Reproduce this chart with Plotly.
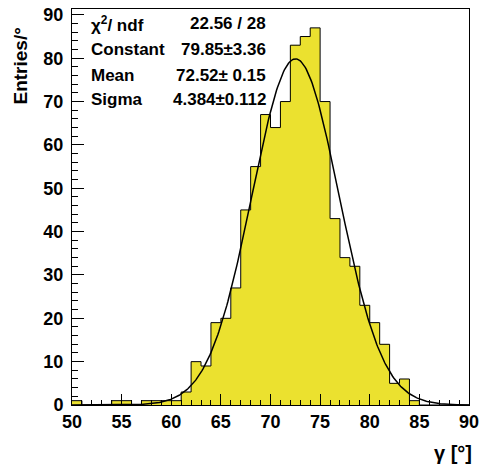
import numpy as np
import plotly.graph_objects as go

# Histogram: bin low edges (width 1) and counts
bin_edges = list(range(50, 91))
counts = [1, 0, 0, 0, 1, 1, 0, 1, 1, 1,      # 50-59
          1, 3, 10, 9, 19, 20, 27, 45, 55, 67,  # 60-69
          64, 70, 83, 85, 87, 70, 43, 34, 32, 23,  # 70-79
          19, 14, 5, 6, 1, 0, 0, 0, 0, 0]      # 80-89

# Gaussian fit parameters (stat box)
fit_constant = 79.85
fit_mean = 72.52
fit_sigma = 4.384

stat_labels = ["χ<sup>2</sup>/ ndf", "Constant", "Mean", "Sigma"]
stat_values = ["22.56 / 28", "79.85±3.36", "72.52± 0.15", "4.384±0.112"]

x_ticks = [50, 55, 60, 65, 70, 75, 80, 85, 90]
y_ticks = [0, 10, 20, 30, 40, 50, 60, 70, 80, 90]

YELLOW = "#ebe12f"
FONT = "Liberation Sans"

centers = [e + 0.5 for e in bin_edges[:-1]]

fig = go.Figure()
fig.add_trace(go.Bar(x=centers, y=counts, width=1.0, marker=dict(color=YELLOW, line=dict(width=0)),
                     hoverinfo="skip"))
# step outline
sx = bin_edges[:-1] + [bin_edges[-1]]
sy = counts + [counts[-1]]
fig.add_trace(go.Scatter(x=sx, y=sy, mode="lines", line=dict(color="black", width=1, shape="hv"),
                         hoverinfo="skip"))
# fit curve
xf = np.linspace(50, 90, 401)
yf = fit_constant * np.exp(-0.5 * ((xf - fit_mean) / fit_sigma) ** 2)
fig.add_trace(go.Scatter(x=xf, y=yf, mode="lines", line=dict(color="black", width=1.5),
                         hoverinfo="skip"))

axis_common = dict(showgrid=False, zeroline=False, showline=True, linecolor="black", linewidth=1,
                   mirror=True, ticks="inside", tickcolor="black",
                   tickfont=dict(family=FONT, size=18, color="black", weight="bold"))
fig.update_xaxes(range=[50, 90], tickvals=x_ticks, ticklen=11, tickwidth=1,
                 minor=dict(ticks="inside", dtick=1, ticklen=5, tickcolor="black", tickwidth=1),
                 **axis_common)
fig.update_yaxes(range=[0, 91.35], tickvals=y_ticks, ticklen=12, tickwidth=1,
                 minor=dict(ticks="inside", dtick=2, ticklen=6, tickcolor="black", tickwidth=1),
                 ticklabelstandoff=4,
                 **axis_common)

annotations = []
row_y = [0.963, 0.898, 0.833, 0.771]
for lab, val, yy in zip(stat_labels, stat_values, row_y):
    annotations.append(dict(x=0.0425, y=yy, xref="paper", yref="paper", text=lab, showarrow=False,
                            xanchor="left", yanchor="middle",
                            font=dict(family=FONT, size=17, color="black", weight="bold")))
    annotations.append(dict(x=0.4925, y=yy, xref="paper", yref="paper", text=val, showarrow=False,
                            xanchor="right", yanchor="middle",
                            font=dict(family=FONT, size=17, color="black", weight="bold")))
annotations.append(dict(x=-0.13, y=0.958, xref="paper", yref="paper", text="Entries/°",
                        textangle=-90, showarrow=False, xanchor="center", yanchor="top",
                        font=dict(family=FONT, size=19, color="black", weight="bold")))
annotations.append(dict(x=1.012, y=-0.122, xref="paper", yref="paper", text="γ [°]",
                        showarrow=False, xanchor="right", yanchor="middle",
                        font=dict(family=FONT, size=20, color="black", weight="bold")))

fig.update_layout(width=484, height=468, margin=dict(l=72, r=12, t=5, b=63, pad=0),
                  paper_bgcolor="white", plot_bgcolor="white", showlegend=False,
                  bargap=0, annotations=annotations)

fig.write_html("out.html", config={"displayModeBar": False},
               post_script="document.body.style.margin='0px';document.body.style.overflow='hidden';")
